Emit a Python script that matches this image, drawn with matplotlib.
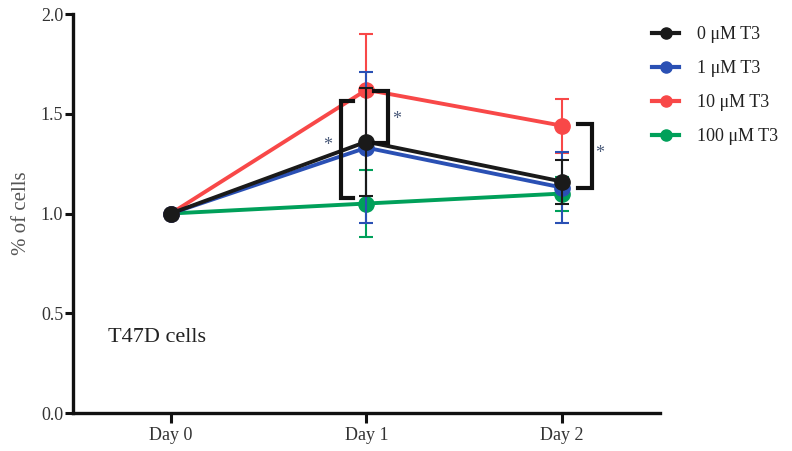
import numpy as np
import matplotlib.pyplot as plt
from matplotlib.lines import Line2D

days = ['Day 0', 'Day 1', 'Day 2']
labels = ['0 μM T3', '1 μM T3', '10 μM T3', '100 μM T3']
colors = ['#1a1a1a', '#2a50b4', '#f84848', '#00a05a']

means = {
    '0 μM T3': [1.0, 1.36, 1.16],
    '1 μM T3': [1.0, 1.33, 1.13],
    '10 μM T3': [1.0, 1.62, 1.44],
    '100 μM T3': [1.0, 1.05, 1.10],
}
errs = {
    '0 μM T3': [0.0, 0.27, 0.11],
    '1 μM T3': [0.0, 0.38, 0.18],
    '10 μM T3': [0.0, 0.28, 0.135],
    '100 μM T3': [0.0, 0.17, 0.085],
}

# significance brackets: (x, y_low, y_high, side, star_x, star_y)
brackets = [
    (0.87, 1.077, 1.565, 'left', 0.80, 1.34),
    (1.11, 1.355, 1.614, 'right', 1.155, 1.47),
    (2.15, 1.126, 1.447, 'right', 2.19, 1.30),
]

plt.rcParams['font.family'] = ['Liberation Serif', 'DejaVu Serif']

fig = plt.figure(figsize=(7.92, 4.51), dpi=100)
ax = fig.add_axes([73/792, 1-413/451, (660-73)/792, (413-14)/451])

x = np.arange(len(days))
order = [3, 2, 1, 0]
for i in order:
    lab = labels[i]
    ax.errorbar(x, means[lab], yerr=errs[lab], color=colors[i], lw=2.8,
                marker='o', ms=11, capsize=5, elinewidth=1.5, capthick=1.5,
                zorder=3 + (3 - i))

for bx, ylo, yhi, side, sx, sy in brackets:
    w = 0.06 if side == 'left' else -0.07
    ax.plot([bx + w, bx, bx, bx + w], [yhi, yhi, ylo, ylo], color='#111111',
            lw=3, solid_joinstyle='miter', zorder=10)
    ax.text(sx, sy, '*', color='#4a5a7a', fontsize=13, ha='center', va='center')

ax.text(-0.32, 0.38, 'T47D cells', fontsize=16, color='#222222', va='center')

ax.set_xlim(-0.5, 2.5)
ax.set_ylim(0, 2.0)
ax.set_xticks(x)
ax.set_xticklabels(days)
ax.set_yticks([0.0, 0.5, 1.0, 1.5, 2.0])
ax.set_yticklabels(['0.0', '0.5', '1.0', '1.5', '2.0'])
ax.tick_params(labelsize=13, width=2.2, colors='#111111', labelcolor='#333333')
ax.tick_params(axis='y', length=6, pad=1)
ax.tick_params(axis='x', length=7, pad=3)
ax.set_ylabel('% of cells', fontsize=15, color='#555555', labelpad=7)
for s in ['top', 'right']:
    ax.spines[s].set_visible(False)
for s in ['left', 'bottom']:
    ax.spines[s].set_linewidth(2.4)
    ax.spines[s].set_color('#111111')

leg_h = [Line2D([], [], color=c, lw=3, marker='o', ms=8) for c in colors]
leg = fig.legend(leg_h, labels, loc='upper left', bbox_to_anchor=(652/792, 1-26/451),
                 frameon=False, fontsize=13, labelspacing=0.95, handlelength=1.5,
                 handletextpad=1.0, borderpad=0, borderaxespad=0)
for t in leg.get_texts():
    t.set_color('#222222')

fig.savefig('out.png', dpi=100)
